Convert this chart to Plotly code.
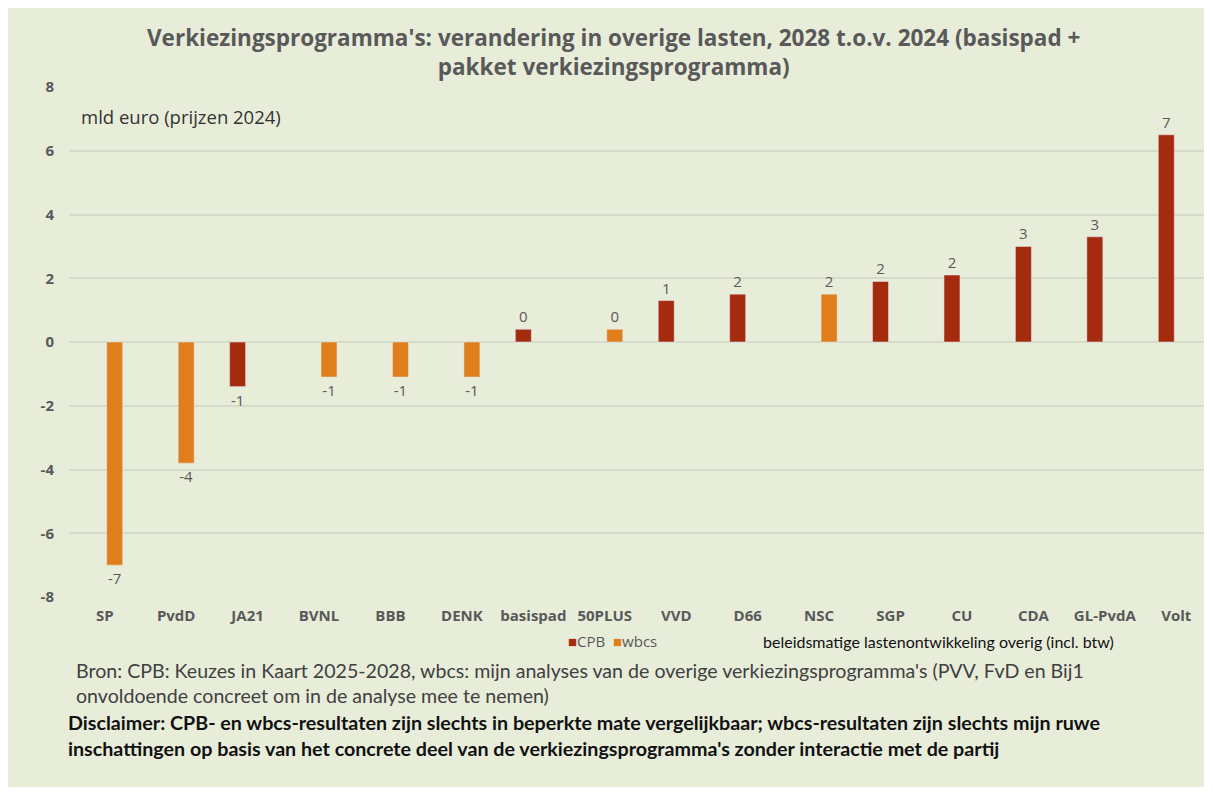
import plotly.graph_objects as go

categories = ["SP", "PvdD", "JA21", "BVNL", "BBB", "DENK", "basispad", "50PLUS",
              "VVD", "D66", "NSC", "SGP", "CU", "CDA", "GL-PvdA", "Volt"]
cpb = [None, None, -1.4, None, None, None, 0.4, None,
       1.3, 1.5, None, 1.9, 2.1, 3.0, 3.3, 6.5]
wbcs = [-7.0, -3.8, None, -1.1, -1.1, -1.1, None, 0.4,
        None, None, 1.5, None, None, None, None, None]
y_ticks = [-8, -6, -4, -2, 0, 2, 4, 6, 8]

OFF = 8  # page body margin
W, H = 1212 - OFF, 793 - OFF
ML, MR, MT, MB = 69 - OFF, 0, 87 - OFF, 793 - 597
PW = W - ML - MR
PH = H - MT - MB

BG = "#E8EDDA"
RED = "#A52B0E"
ORANGE = "#DF7E1B"
GRAY = "#595959"
GRID = "#D6DBC9"
FONT = "'Open Sans', Lato, sans-serif"
FONT2 = "Lato, 'Open Sans', sans-serif"

def px_x(p):
    return (p - OFF - ML) / PW

def px_y(p):
    return (H - MB - (p - OFF)) / PH

fig = go.Figure()
fig.add_trace(go.Bar(x=categories, y=cpb, name="CPB", marker_color=RED,
                     texttemplate="%{y:.0f}", textposition="outside",
                     textfont=dict(color=GRAY, size=15, family=FONT),
                     cliponaxis=False, showlegend=False))
fig.add_trace(go.Bar(x=categories, y=wbcs, name="wbcs", marker_color=ORANGE,
                     texttemplate="%{y:.0f}", textposition="outside",
                     textfont=dict(color=GRAY, size=15, family=FONT),
                     cliponaxis=False, showlegend=False))

shapes = [dict(type="rect", xref="paper", yref="paper",
               x0=px_x(7), x1=px_x(1207), y0=px_y(787), y1=px_y(7),
               fillcolor=BG, line=dict(width=0), layer="below")]

legend_text = (f"<span style='color:{RED}'>■</span>CPB  "
               f"<span style='color:{ORANGE}'>■</span>wbcs")

annotations = [
    dict(text="<b>Verkiezingsprogramma's: verandering in overige lasten, 2028 t.o.v. 2024 (basispad +<br>pakket verkiezingsprogramma)</b>",
         xref="paper", yref="paper", x=px_x(613), y=px_y(52), xanchor="center", yanchor="middle",
         showarrow=False, font=dict(size=22.5, color=GRAY, family=FONT), align="center"),
    dict(text="mld euro (prijzen 2024)", xref="paper", yref="paper",
         x=px_x(79), y=px_y(116), xanchor="left", yanchor="middle", showarrow=False,
         font=dict(size=18.5, color="#333333", family=FONT)),
    dict(text=legend_text, xref="paper", yref="paper",
         x=px_x(566), y=px_y(641), xanchor="left", yanchor="middle", showarrow=False,
         font=dict(size=15, color=GRAY, family=FONT)),
    dict(text="beleidsmatige lastenontwikkeling overig (incl. btw)", xref="paper", yref="paper",
         x=px_x(761), y=px_y(641), xanchor="left", yanchor="middle", showarrow=False,
         font=dict(size=16, color="#111111", family=FONT2)),
    dict(text="Bron: CPB: Keuzes in Kaart 2025-2028, wbcs: mijn analyses van de overige verkiezingsprogramma's (PVV, FvD en Bij1<br>onvoldoende concreet om in de analyse mee te nemen)",
         xref="paper", yref="paper", x=px_x(74), y=px_y(683), xanchor="left", yanchor="middle",
         showarrow=False, align="left",
         font=dict(size=19.6, color="#404040", family=FONT2)),
    dict(text="<b>Disclaimer: CPB- en wbcs-resultaten zijn slechts in beperkte mate vergelijkbaar; wbcs-resultaten zijn slechts mijn ruwe<br>inschattingen op basis van het concrete deel van de verkiezingsprogramma's zonder interactie met de partij</b>",
         xref="paper", yref="paper", x=px_x(66), y=px_y(735), xanchor="left", yanchor="middle",
         showarrow=False, align="left",
         font=dict(size=19.7, color="#111111", family=FONT2)),
]

fig.update_layout(
    width=W, height=H,
    margin=dict(l=ML, r=MR, t=MT, b=MB),
    paper_bgcolor="white",
    plot_bgcolor="rgba(0,0,0,0)",
    barmode="group", bargap=0.44, bargroupgap=0.2,
    shapes=shapes, annotations=annotations,
    showlegend=False,
    xaxis=dict(tickfont=dict(size=15, color=GRAY, family=FONT, weight="bold"), showgrid=False,
               showline=False, ticks="", ticklabelstandoff=8, tickangle=0),
    yaxis=dict(range=[-8, 8], tickvals=y_ticks, ticktext=[str(v) for v in y_ticks],
               tickfont=dict(size=15, color=GRAY, family=FONT, weight="bold"),
               showgrid=True, gridcolor=GRID, gridwidth=1.5,
               zeroline=True, zerolinecolor=GRID, zerolinewidth=1.5,
               showline=False, ticks="", ticklabelstandoff=14),
    font=dict(family=FONT, color=GRAY),
)

fig.write_html("out.html")
